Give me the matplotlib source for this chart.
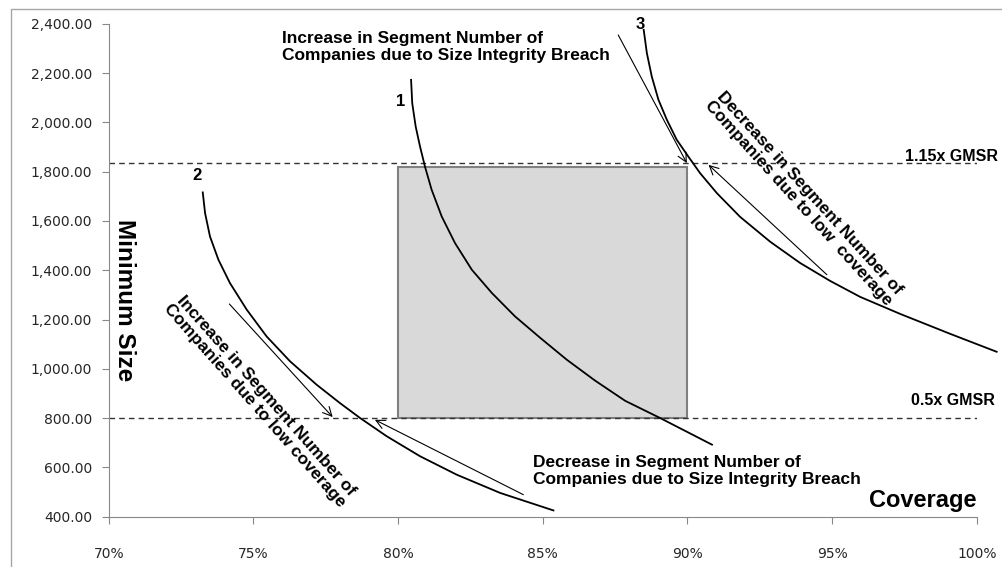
import numpy as np
import matplotlib
matplotlib.use("Agg")
import matplotlib.pyplot as plt
from matplotlib.patches import Rectangle
from matplotlib.ticker import FuncFormatter

# curves (coverage %, minimum size)
curve1_x = [80.45, 80.49, 80.61, 80.76, 80.93, 81.16, 81.51, 81.97, 82.55, 83.24,
            84.04, 84.91, 85.83, 86.81, 87.85, 89.06, 90.85]
curve1_y = [2173, 2078, 1983, 1902, 1821, 1727, 1618, 1510, 1402, 1308,
            1213, 1126, 1037, 952, 870, 800, 692]
curve2_x = [73.25, 73.33, 73.50, 73.79, 74.19, 74.77, 75.46, 76.27, 77.19, 77.99,
            78.69, 79.61, 80.76, 82.03, 83.53, 85.37]
curve2_y = [1716, 1632, 1537, 1443, 1348, 1240, 1131, 1030, 935, 861,
            800, 726, 645, 570, 496, 425]
curve3_x = [88.49, 88.60, 88.77, 89.00, 89.29, 89.63, 90.03, 90.44, 91.02, 91.82,
            92.86, 93.89, 94.93, 95.97, 97.35, 99.08, 100.69]
curve3_y = [2376, 2281, 2186, 2092, 2011, 1930, 1862, 1794, 1713, 1617,
            1516, 1430, 1357, 1292, 1223, 1142, 1069]

upper_gmsr = 1835
lower_gmsr = 800
box_x = [80, 90]
box_y = [800, 1820]

# arrows: (tail, head)
arrows = [
    ((87.61, 2355), (89.98, 1835)),
    ((94.82, 1382), (90.73, 1828)),
    ((74.17, 1263), (77.74, 804)),
    ((84.33, 489), (79.20, 793)),
]

x_ticks = [70, 75, 80, 85, 90, 95, 100]
y_ticks = list(range(400, 2401, 200))

bold = dict(family="Liberation Sans", fontweight="bold", color="black")

fig = plt.figure(figsize=(10.03, 5.67), dpi=100)
ax = fig.add_axes([0.1084, 0.0889, 0.8654, 0.8689])

fig.patches.append(Rectangle((11 / 1003, -0.1), 1.2, 1.085, transform=fig.transFigure,
                             fill=False, edgecolor="#a6a6a6", lw=1))

ax.add_patch(Rectangle((box_x[0], box_y[0]), box_x[1] - box_x[0], box_y[1] - box_y[0],
                       facecolor="#d9d9d9", edgecolor="#808080", lw=1.5, zorder=1))

ax.axhline(upper_gmsr, color="#333333", lw=1, ls=(0, (4, 3)), zorder=2)
ax.axhline(lower_gmsr, color="#333333", lw=1, ls=(0, (4, 3)), zorder=2)

for cx, cy in [(curve1_x, curve1_y), (curve2_x, curve2_y), (curve3_x, curve3_y)]:
    ax.plot(cx, cy, color="black", lw=1.3, clip_on=False, zorder=3,
            solid_joinstyle="round")

for tail, head in arrows:
    ax.annotate("", xy=head, xytext=tail,
                arrowprops=dict(arrowstyle="->", lw=0.8, color="black",
                                shrinkA=0, shrinkB=0, mutation_scale=16))

ax.set_xlim(70, 100)
ax.set_ylim(400, 2400)
ax.set_xticks(x_ticks)
ax.set_yticks(y_ticks)
ax.xaxis.set_major_formatter(FuncFormatter(lambda v, p: f"{v:.0f}%"))
ax.yaxis.set_major_formatter(FuncFormatter(lambda v, p: f"{v:,.2f}"))
for s in ["top", "right"]:
    ax.spines[s].set_visible(False)
for s in ["left", "bottom"]:
    ax.spines[s].set_color("#888888")
ax.tick_params(axis="both", colors="#888888", labelcolor="#262626", labelsize=10, length=5)
ax.tick_params(axis="x", pad=17)
ax.tick_params(axis="y", pad=7)

ax.text(75.98, 2370, "Increase in Segment Number of\nCompanies due to Size Integrity Breach",
        ha="left", va="top", fontsize=12.5, linespacing=1.15, **bold)
ax.text(84.67, 650, "Decrease in Segment Number of\nCompanies due to Size Integrity Breach",
        ha="left", va="top", fontsize=12.5, linespacing=1.15, **bold)
ax.text(75.23, 870, "Increase in Segment Number of\nCompanies due to low coverage",
        ha="center", va="center", rotation=-48.5, rotation_mode="anchor",
        fontsize=12.5, linespacing=1.0, **bold)
ax.text(94.02, 1693, "Decrease in Segment Number of\nCompanies due to low  coverage",
        ha="center", va="center", rotation=-47.8, rotation_mode="anchor",
        fontsize=12.5, linespacing=1.0, **bold)

ax.text(100.74, 1862, "1.15x GMSR", ha="right", va="center", fontsize=11.5, clip_on=False, **bold)
ax.text(100.63, 872, "0.5x GMSR", ha="right", va="center", fontsize=11.5, clip_on=False, **bold)
ax.text(80.09, 2085, "1", ha="center", va="center", fontsize=12, **bold)
ax.text(73.04, 1783, "2", ha="center", va="center", fontsize=12, **bold)
ax.text(88.37, 2396, "3", ha="center", va="center", fontsize=12, clip_on=False, **bold)

ax.text(100, 465, "Coverage", ha="right", va="center", fontsize=17, **bold)
ax.text(70.56, 1280, "Minimum Size", ha="center", va="center", rotation=-90, fontsize=17.5, **bold)

fig.savefig("out.png", dpi=100)
